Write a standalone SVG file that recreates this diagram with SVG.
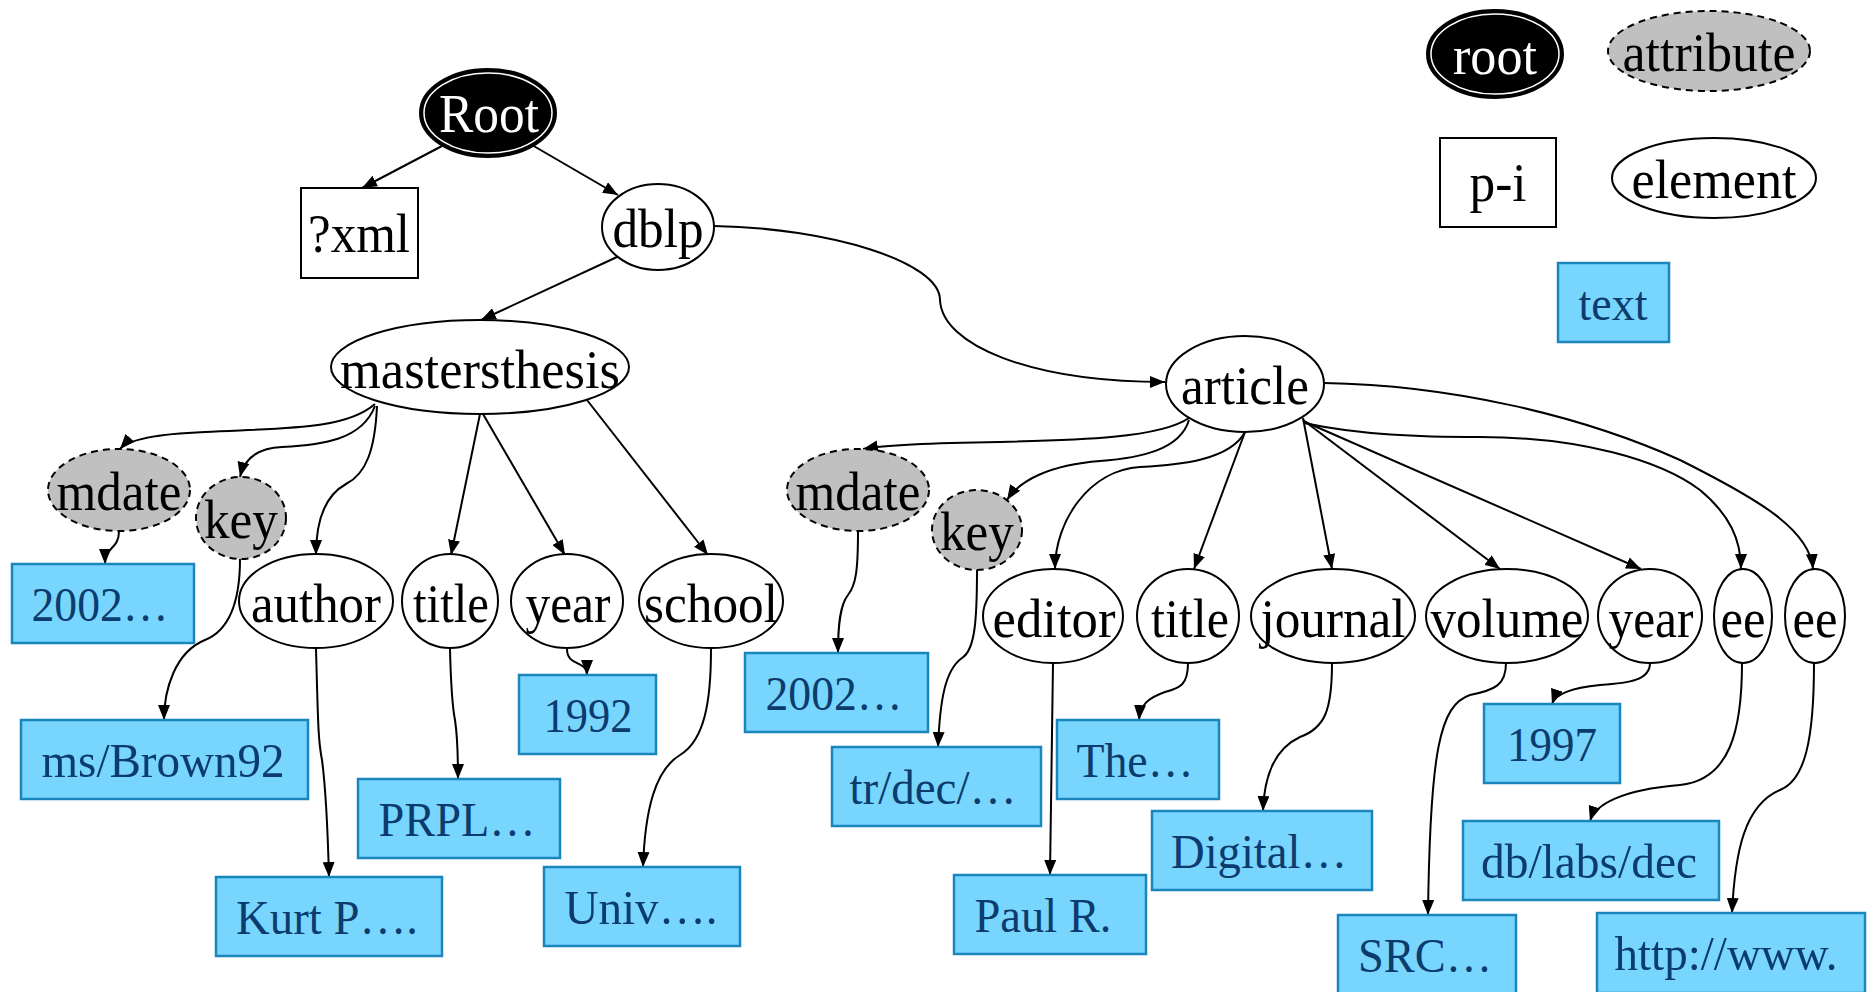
<svg xmlns="http://www.w3.org/2000/svg" width="1867" height="992" viewBox="0 0 1867 992">
  <style>
    .el { fill: #ffffff; stroke: #000000; stroke-width: 2; }
    .attr { fill: #c0c0c0; stroke: #000000; stroke-width: 2; stroke-dasharray: 7 5; }
    .pi { fill: #ffffff; stroke: #000000; stroke-width: 2; }
    .txt { fill: #78d6fe; stroke: #1a86bb; stroke-width: 2.5; }
    .lbl { font-family: "Liberation Serif", "Times New Roman", serif; font-size: 55px; fill: #000000; text-anchor: middle; }
    .lbl-root { font-family: "Liberation Serif", "Times New Roman", serif; font-size: 55px; fill: #ffffff; text-anchor: middle; }
    .lbl-txt { font-family: "Liberation Serif", "Times New Roman", serif; font-size: 49px; fill: #0c3c6e; text-anchor: middle; }
    .edge { fill: none; stroke: #000000; stroke-width: 2; marker-end: url(#arrow); }
  </style>
  <defs>
    <marker id="arrow" markerUnits="userSpaceOnUse" markerWidth="16" markerHeight="12" refX="15" refY="6" orient="auto">
      <path d="M0,0 L15,6 L0,12 Z" fill="#000000"/>
    </marker>
  </defs>
  <rect width="1867" height="992" fill="#ffffff"/>

  <!-- connectors -->
  <g id="connectors">
    <path class="edge" d="M442,146 L362,188"/>
    <path class="edge" d="M532,145 L618,195"/>
    <path class="edge" d="M617,257 L481,320"/>
    <path class="edge" d="M714,226 C830,228 940,262 940,300 C942,345 1030,382 1165,382"/>

    <path class="edge" d="M375,404 C345,430 285,428 205,432 C155,434 128,440 120,449"/>
    <path class="edge" d="M375,406 C362,440 322,445 282,447 C257,448 244,460 240,477"/>
    <path class="edge" d="M377,406 C375,450 366,474 346,484 C326,495 316,520 316,555"/>
    <path class="edge" d="M480,414 L451,555"/>
    <path class="edge" d="M483,414 L565,555"/>
    <path class="edge" d="M587,400 L708,555"/>

    <path class="edge" d="M119,531 C119,550 105,546 105,564"/>
    <path class="edge" d="M240,559 C240,600 230,630 205,640 C175,652 164,690 164,720"/>
    <path class="edge" d="M316,649 C318,720 318,740 322,760 C326,790 328,840 329,877"/>
    <path class="edge" d="M450,649 C451,690 452,705 455,720 C458,740 458,760 458,779"/>
    <path class="edge" d="M567,649 C567,667 587,660 587,675"/>
    <path class="edge" d="M711,649 C711,700 705,740 680,755 C655,770 645,810 643,867"/>

    <path class="edge" d="M1189,418 C1160,438 1080,440 1000,442 C930,443 885,445 863,449"/>
    <path class="edge" d="M1189,420 C1180,450 1140,458 1100,461 C1050,465 1020,480 1007,500"/>
    <path class="edge" d="M1245,432 C1230,460 1180,465 1140,467 C1090,470 1055,520 1055,569"/>
    <path class="edge" d="M1245,432 L1194,569"/>
    <path class="edge" d="M1303,418 L1332,569"/>
    <path class="edge" d="M1303,420 L1500,569"/>
    <path class="edge" d="M1303,421 L1641,569"/>
    <path class="edge" d="M1304,423 C1360,435 1420,437 1480,437 C1580,437 1660,460 1700,490 C1730,515 1741,540 1741,569"/>
    <path class="edge" d="M1324,383 C1450,385 1580,415 1680,460 C1760,500 1810,530 1813,569"/>

    <path class="edge" d="M858,531 C858,570 856,585 848,595 C840,605 838,625 838,653"/>
    <path class="edge" d="M977,570 C977,620 975,650 962,658 C945,670 940,700 938,747"/>
    <path class="edge" d="M1053,663 L1050,875"/>
    <path class="edge" d="M1188,663 C1188,685 1180,688 1165,692 C1148,698 1140,705 1139,720"/>
    <path class="edge" d="M1332,663 C1332,710 1325,728 1300,737 C1272,750 1264,780 1263,811"/>
    <path class="edge" d="M1506,663 C1506,685 1495,690 1470,695 C1440,705 1430,750 1428,915"/>
    <path class="edge" d="M1650,663 C1650,680 1630,683 1600,685 C1570,688 1555,695 1552,704"/>
    <path class="edge" d="M1742,663 C1742,730 1730,780 1680,785 C1620,790 1595,805 1590,821"/>
    <path class="edge" d="M1814,663 C1814,740 1805,780 1780,790 C1745,805 1735,850 1732,913"/>
  </g>

  <!-- document tree -->
  <g id="node-root">
    <ellipse cx="488" cy="113" rx="68" ry="44" fill="#000000" stroke="#000000" stroke-width="2"/>
    <ellipse cx="488" cy="113" rx="64" ry="40" fill="none" stroke="#ffffff" stroke-width="1.5"/>
    <text class="lbl-root" x="489" y="132" textLength="100" lengthAdjust="spacingAndGlyphs">Root</text>
  </g>
  <g id="node-xml">
    <rect class="pi" x="301" y="188" width="117" height="90"/>
    <text class="lbl" x="359" y="252" textLength="102" lengthAdjust="spacingAndGlyphs">?xml</text>
  </g>
  <g id="node-dblp">
    <ellipse class="el" cx="658" cy="227" rx="56" ry="43"/>
    <text class="lbl" x="658" y="247" textLength="91" lengthAdjust="spacingAndGlyphs">dblp</text>
  </g>
  <g id="node-mastersthesis">
    <ellipse class="el" cx="480" cy="367" rx="149" ry="47"/>
    <text class="lbl" x="480" y="388" textLength="280" lengthAdjust="spacingAndGlyphs">mastersthesis</text>
  </g>
  <g id="node-article">
    <ellipse class="el" cx="1245" cy="384" rx="79" ry="48"/>
    <text class="lbl" x="1245" y="404" textLength="128" lengthAdjust="spacingAndGlyphs">article</text>
  </g>

  <g id="node-mdate1">
    <ellipse class="attr" cx="119" cy="490" rx="71" ry="41"/>
    <text class="lbl" x="119" y="510" textLength="125" lengthAdjust="spacingAndGlyphs">mdate</text>
  </g>
  <g id="node-key1">
    <ellipse class="attr" cx="241" cy="518" rx="45" ry="41"/>
    <text class="lbl" x="241" y="538" textLength="74" lengthAdjust="spacingAndGlyphs">key</text>
  </g>
  <g id="node-author">
    <ellipse class="el" cx="316" cy="601" rx="77" ry="47"/>
    <text class="lbl" x="316" y="622" textLength="130" lengthAdjust="spacingAndGlyphs">author</text>
  </g>
  <g id="node-title1">
    <ellipse class="el" cx="450" cy="601" rx="48" ry="47"/>
    <text class="lbl" x="451" y="622" textLength="76" lengthAdjust="spacingAndGlyphs">title</text>
  </g>
  <g id="node-year1">
    <ellipse class="el" cx="567" cy="601" rx="56" ry="47"/>
    <text class="lbl" x="568" y="622" textLength="85" lengthAdjust="spacingAndGlyphs">year</text>
  </g>
  <g id="node-school">
    <ellipse class="el" cx="711" cy="601" rx="72" ry="47"/>
    <text class="lbl" x="711" y="622" textLength="134" lengthAdjust="spacingAndGlyphs">school</text>
  </g>

  <g id="node-mdate2">
    <ellipse class="attr" cx="858" cy="490" rx="71" ry="41"/>
    <text class="lbl" x="858" y="510" textLength="125" lengthAdjust="spacingAndGlyphs">mdate</text>
  </g>
  <g id="node-key2">
    <ellipse class="attr" cx="977" cy="530" rx="45" ry="40"/>
    <text class="lbl" x="977" y="550" textLength="74" lengthAdjust="spacingAndGlyphs">key</text>
  </g>
  <g id="node-editor">
    <ellipse class="el" cx="1053" cy="616" rx="70" ry="47"/>
    <text class="lbl" x="1054" y="637" textLength="123" lengthAdjust="spacingAndGlyphs">editor</text>
  </g>
  <g id="node-title2">
    <ellipse class="el" cx="1188" cy="616" rx="51" ry="47"/>
    <text class="lbl" x="1190" y="637" textLength="78" lengthAdjust="spacingAndGlyphs">title</text>
  </g>
  <g id="node-journal">
    <ellipse class="el" cx="1333" cy="616" rx="82" ry="47"/>
    <text class="lbl" x="1333" y="637" textLength="145" lengthAdjust="spacingAndGlyphs">journal</text>
  </g>
  <g id="node-volume">
    <ellipse class="el" cx="1507" cy="616" rx="81" ry="47"/>
    <text class="lbl" x="1507" y="637" textLength="153" lengthAdjust="spacingAndGlyphs">volume</text>
  </g>
  <g id="node-year2">
    <ellipse class="el" cx="1650" cy="616" rx="52" ry="47"/>
    <text class="lbl" x="1651" y="637" textLength="85" lengthAdjust="spacingAndGlyphs">year</text>
  </g>
  <g id="node-ee1">
    <ellipse class="el" cx="1743" cy="616" rx="29" ry="47"/>
    <text class="lbl" x="1743" y="637" textLength="45" lengthAdjust="spacingAndGlyphs">ee</text>
  </g>
  <g id="node-ee2">
    <ellipse class="el" cx="1815" cy="616" rx="30" ry="47"/>
    <text class="lbl" x="1815" y="637" textLength="45" lengthAdjust="spacingAndGlyphs">ee</text>
  </g>

  <!-- text values -->
  <g id="text-mdate1">
    <rect class="txt" x="12" y="564" width="182" height="79"/>
    <text class="lbl-txt" x="100" y="621" textLength="137" lengthAdjust="spacingAndGlyphs">2002…</text>
  </g>
  <g id="text-key1">
    <rect class="txt" x="21" y="720" width="287" height="79"/>
    <text class="lbl-txt" x="163" y="777" textLength="243" lengthAdjust="spacingAndGlyphs">ms/Brown92</text>
  </g>
  <g id="text-author">
    <rect class="txt" x="216" y="877" width="226" height="79"/>
    <text class="lbl-txt" x="327" y="934" textLength="182" lengthAdjust="spacingAndGlyphs">Kurt P….</text>
  </g>
  <g id="text-title1">
    <rect class="txt" x="358" y="779" width="202" height="79"/>
    <text class="lbl-txt" x="457" y="836" textLength="157" lengthAdjust="spacingAndGlyphs">PRPL…</text>
  </g>
  <g id="text-year1">
    <rect class="txt" x="519" y="675" width="137" height="79"/>
    <text class="lbl-txt" x="588" y="732" textLength="89" lengthAdjust="spacingAndGlyphs">1992</text>
  </g>
  <g id="text-school">
    <rect class="txt" x="544" y="867" width="196" height="79"/>
    <text class="lbl-txt" x="641" y="924" textLength="153" lengthAdjust="spacingAndGlyphs">Univ….</text>
  </g>
  <g id="text-mdate2">
    <rect class="txt" x="745" y="653" width="183" height="79"/>
    <text class="lbl-txt" x="834" y="710" textLength="137" lengthAdjust="spacingAndGlyphs">2002…</text>
  </g>
  <g id="text-key2">
    <rect class="txt" x="832" y="747" width="209" height="79"/>
    <text class="lbl-txt" x="933" y="804" textLength="167" lengthAdjust="spacingAndGlyphs">tr/dec/…</text>
  </g>
  <g id="text-title2">
    <rect class="txt" x="1057" y="720" width="162" height="79"/>
    <text class="lbl-txt" x="1135" y="777" textLength="117" lengthAdjust="spacingAndGlyphs">The…</text>
  </g>
  <g id="text-editor">
    <rect class="txt" x="954" y="875" width="192" height="79"/>
    <text class="lbl-txt" x="1043" y="932" textLength="137" lengthAdjust="spacingAndGlyphs">Paul R.</text>
  </g>
  <g id="text-journal">
    <rect class="txt" x="1152" y="811" width="220" height="79"/>
    <text class="lbl-txt" x="1259" y="868" textLength="176" lengthAdjust="spacingAndGlyphs">Digital…</text>
  </g>
  <g id="text-year2">
    <rect class="txt" x="1484" y="704" width="136" height="79"/>
    <text class="lbl-txt" x="1552" y="761" textLength="90" lengthAdjust="spacingAndGlyphs">1997</text>
  </g>
  <g id="text-ee1">
    <rect class="txt" x="1463" y="821" width="256" height="79"/>
    <text class="lbl-txt" x="1589" y="878" textLength="216" lengthAdjust="spacingAndGlyphs">db/labs/dec</text>
  </g>
  <g id="text-volume">
    <rect class="txt" x="1338" y="915" width="178" height="80"/>
    <text class="lbl-txt" x="1425" y="972" textLength="134" lengthAdjust="spacingAndGlyphs">SRC…</text>
  </g>
  <g id="text-ee2">
    <rect class="txt" x="1597" y="913" width="268" height="80"/>
    <text class="lbl-txt" x="1726" y="970" textLength="223" lengthAdjust="spacingAndGlyphs">http://www.</text>
  </g>

  <!-- legend -->
  <g id="legend-root">
    <ellipse cx="1495" cy="54" rx="68" ry="44" fill="#000000" stroke="#000000" stroke-width="2"/>
    <ellipse cx="1495" cy="54" rx="64" ry="40" fill="none" stroke="#ffffff" stroke-width="1.5"/>
    <text class="lbl-root" x="1495" y="74" textLength="84" lengthAdjust="spacingAndGlyphs">root</text>
  </g>
  <g id="legend-attribute">
    <ellipse class="attr" cx="1709" cy="51" rx="101" ry="40"/>
    <text class="lbl" x="1709" y="71" textLength="173" lengthAdjust="spacingAndGlyphs">attribute</text>
  </g>
  <g id="legend-pi">
    <rect class="pi" x="1440" y="138" width="116" height="89"/>
    <text class="lbl" x="1498" y="201" textLength="57" lengthAdjust="spacingAndGlyphs">p-i</text>
  </g>
  <g id="legend-element">
    <ellipse class="el" cx="1714" cy="178" rx="102" ry="40"/>
    <text class="lbl" x="1714" y="198" textLength="165" lengthAdjust="spacingAndGlyphs">element</text>
  </g>
  <g id="legend-text">
    <rect class="txt" x="1558" y="263" width="111" height="79"/>
    <text class="lbl-txt" x="1613" y="320" textLength="69" lengthAdjust="spacingAndGlyphs">text</text>
  </g>
</svg>
